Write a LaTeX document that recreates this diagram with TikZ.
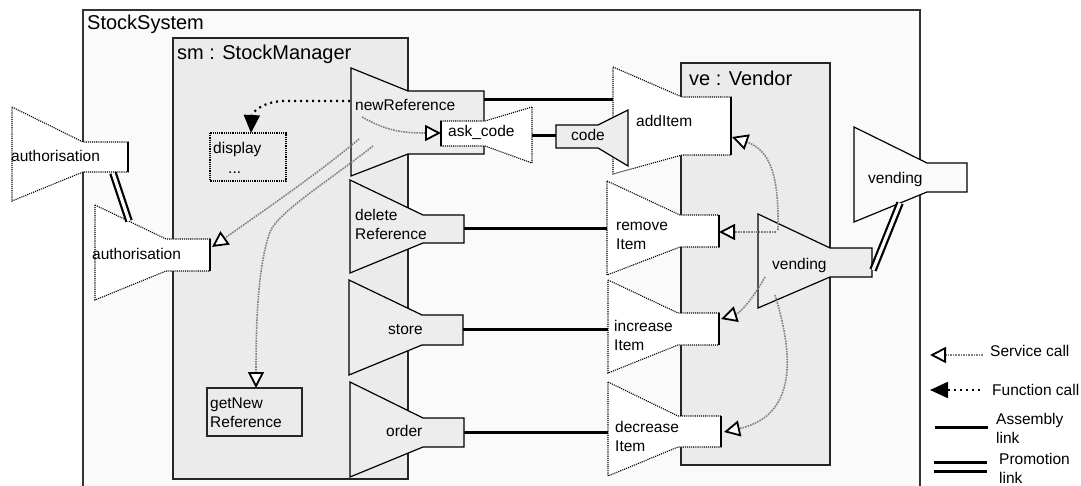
\documentclass[tikz,border=0pt]{standalone}
\usepackage{fontspec}
\setmainfont{Liberation Sans}
\usetikzlibrary{arrows.meta}

\begin{document}
\begin{tikzpicture}[x=1pt,y=-1pt,
  sysbox/.style={draw=black!80,fill=black!2,line width=1.3pt},
  compbox/.style={draw=black!85,fill=black!8,line width=1.3pt},
  provport/.style={draw=black,fill=black!7,line width=1.2pt},
  extport/.style={draw=black,fill=black!2,line width=1.2pt},
  reqport/.style={draw=black,fill=white,line width=1.1pt,densely dotted},
  lbl/.style={font=\fontsize{15.5}{19}\selectfont,inner sep=0pt,align=left},
  title/.style={font=\fontsize{20}{24}\selectfont,inner sep=0pt},
  assembly/.style={line width=3pt},
  promotion/.style={double=black!2,double distance=3.2pt,line width=2.2pt},
  servicecall/.style={draw=black!50,densely dotted,line width=1.6pt,
    -{Triangle[length=16pt,width=16pt,fill=white,color=black,line width=1.8pt]}},
  funccall/.style={draw=black,line width=2.2pt,dash pattern=on 2pt off 4pt,
    -{Triangle[length=18pt,width=16pt,color=black]}}]
\useasboundingbox (0,0) rectangle (1081,486);

% funnel port: style, wide x, narrow x, end x, wide top, wide bottom, narrow top, narrow bottom
\def\funnel#1#2#3#4#5#6#7#8{\draw[#1] (#2,#5) -- (#3,#7) -- (#4,#7) -- (#4,#8) -- (#3,#8) -- (#2,#6) -- cycle;}
\def\reqfunnel#1#2#3#4#5#6#7{\funnel{reqport}{#1}{#2}{#3}{#4}{#5}{#6}{#7}\draw[line width=1.1pt] (#3,#6) -- (#3,#7);}

% boxes
\draw[sysbox] (83,10) rectangle (920,495);
\node[title,anchor=base west] (systitle) at (87,29.5) {StockSystem};
\draw[compbox] (173,38) rectangle (408,479);
\node[title,anchor=base west] (smtitle) at (177,59.5) {sm : StockManager};
\draw[compbox] (681,63) rectangle (830,465);
\node[title,anchor=base west] (vetitle) at (689,86) {ve : Vendor};

% promoted ports
\reqfunnel{12}{83}{128}{107}{201}{142}{172}
\node[lbl,anchor=base west] (extauth) at (11,161.7) {authorisation};
\funnel{extport}{854}{927}{967}{127}{222}{163}{192}
\node[lbl,anchor=base west] (extvend) at (868,183.3) {vending};

% StockManager ports
\reqfunnel{95}{166}{210}{205}{300}{239}{271}
\node[lbl,anchor=base west] (intauth) at (92,260) {authorisation};
\funnel{provport}{351}{408}{484}{68}{176}{91}{154}
\node[lbl,anchor=base west] (newref) at (355,110.5) {newReference};
\funnel{provport}{350}{423}{464}{180}{273}{215}{243}
\node[lbl,anchor=base west] (delref) at (355,239.5) {delete\\Reference};
\funnel{provport}{349}{422}{463}{280}{375}{315}{345}
\node[lbl,anchor=base west] (store) at (388,334) {store};
\funnel{provport}{350}{423}{464}{382}{477}{418}{447}
\node[lbl,anchor=base west] (order) at (386,436.7) {order};
\reqfunnel{532}{485}{441}{107}{163}{121}{146}
\node[lbl,anchor=base west] (askcode) at (448,136.7) {ask\_code};

\draw[compbox,line width=1.2pt] (207,388) rectangle (302,436);
\node[lbl,anchor=base west] (getnew) at (210,427.3) {getNew\\Reference};
\draw[densely dotted,line width=1.2pt] (210,133) rectangle (286,181);
\node[lbl,anchor=base west] (display) at (213,153.3) {display};
\node[lbl,anchor=base west] (dots) at (228,173.3) {...};

% Vendor ports
\reqfunnel{613}{682}{731}{67}{174}{97}{155}
\node[lbl,anchor=base west] (additem) at (636,126.7) {addItem};
\funnel{provport}{628}{598}{556}{110}{166}{125}{148}
\node[lbl,anchor=base west] (code) at (571,140.7) {code};
\reqfunnel{607}{680}{719}{181}{275}{215}{247}
\node[lbl,anchor=base west] (remitem) at (616,250) {remove\\Item};
\reqfunnel{608}{678}{719}{280}{373}{313}{345}
\node[lbl,anchor=base west] (incitem) at (614,350) {increase\\Item};
\reqfunnel{608}{678}{721}{382}{476}{416}{447}
\node[lbl,anchor=base west] (decitem) at (615,451.7) {decrease\\Item};
\funnel{provport}{758}{830}{872}{214}{308}{248}{277}
\node[lbl,anchor=base west] (intvend) at (772,269.3) {vending};

% link ends
\coordinate (newref-r) at (484,100);
\coordinate (additem-l) at (613,100);
\coordinate (askcode-r) at (532,136);
\coordinate (code-l) at (556,136);
\coordinate (delref-r) at (464,229);
\coordinate (remitem-l) at (607,229);
\coordinate (store-r) at (463,329);
\coordinate (incitem-l) at (608,329);
\coordinate (order-r) at (464,432);
\coordinate (decitem-l) at (608,432);
\coordinate (extauth-b) at (113,173);
\coordinate (intauth-t) at (129,221);
\coordinate (extvend-b) at (900,203);
\coordinate (intvend-r) at (873,270);

% assembly and promotion links
\draw[assembly] (newref-r) -- (additem-l);
\draw[assembly] (askcode-r) -- (code-l);
\draw[assembly] (delref-r) -- (remitem-l);
\draw[assembly] (store-r) -- (incitem-l);
\draw[assembly] (order-r) -- (decitem-l);
\draw[promotion] (extauth-b) -- (intauth-t);
\draw[promotion] (extvend-b) -- (intvend-r);

% calls
\coordinate (nr-f) at (350,101);
\coordinate (display-t) at (251,133);
\draw[funccall] (nr-f) -- (285,101) .. controls (264,101) and (252,112) .. (display-t);
\coordinate (nr-s1) at (362,117);
\coordinate (askcode-l) at (441,133);
\draw[servicecall] (nr-s1) .. controls (385,130) and (400,133) .. (askcode-l);
\coordinate (nr-s2) at (359,139);
\coordinate (intauth-r) at (212,247);
\draw[servicecall] (nr-s2) .. controls (320,172) and (262,212) .. (intauth-r);
\coordinate (nr-s3) at (373,146);
\coordinate (getnew-t) at (256,388);
\draw[servicecall] (nr-s3) .. controls (330,180) and (278,212) .. (270,232) .. controls (258,265) and (256,320) .. (getnew-t);
\coordinate (vd-s1) at (776,232);
\coordinate (remitem-r) at (719,232);
\draw[servicecall] (vd-s1) -- (remitem-r);
\coordinate (vd-s2) at (778,230);
\coordinate (additem-r) at (732,137);
\draw[servicecall] (vd-s2) .. controls (779,175) and (770,150) .. (additem-r);
\coordinate (vd-s3) at (765,277);
\coordinate (incitem-r) at (721,319);
\draw[servicecall] (vd-s3) .. controls (752,300) and (740,313) .. (incitem-r);
\coordinate (vd-s4) at (775,295);
\coordinate (decitem-r) at (724,432);
\draw[servicecall] (vd-s4) .. controls (792,350) and (800,415) .. (decitem-r);

% legend
\coordinate (lg-svc-a) at (983,355);
\coordinate (lg-svc-b) at (930,355);
\draw[servicecall] (lg-svc-a) -- (lg-svc-b);
\node[lbl,anchor=base west] (lg-svc) at (990,356) {Service call};
\coordinate (lg-fun-a) at (980,390);
\coordinate (lg-fun-b) at (930,390);
\draw[funccall] (lg-fun-a) -- (lg-fun-b);
\node[lbl,anchor=base west] (lg-fun) at (992,395) {Function call};
\coordinate (lg-asm-a) at (935,427);
\coordinate (lg-asm-b) at (988,427);
\draw[assembly] (lg-asm-a) -- (lg-asm-b);
\node[lbl,anchor=base west] (lg-asm) at (996,443.3) {Assembly\\link};
\coordinate (lg-pro-a) at (934,466.5);
\coordinate (lg-pro-b) at (987,466.5);
\draw[double=white,double distance=6pt,line width=3pt] (lg-pro-a) -- (lg-pro-b);
\node[lbl,anchor=base west] (lg-pro) at (999,483) {Promotion\\link};

\end{tikzpicture}
\end{document}
